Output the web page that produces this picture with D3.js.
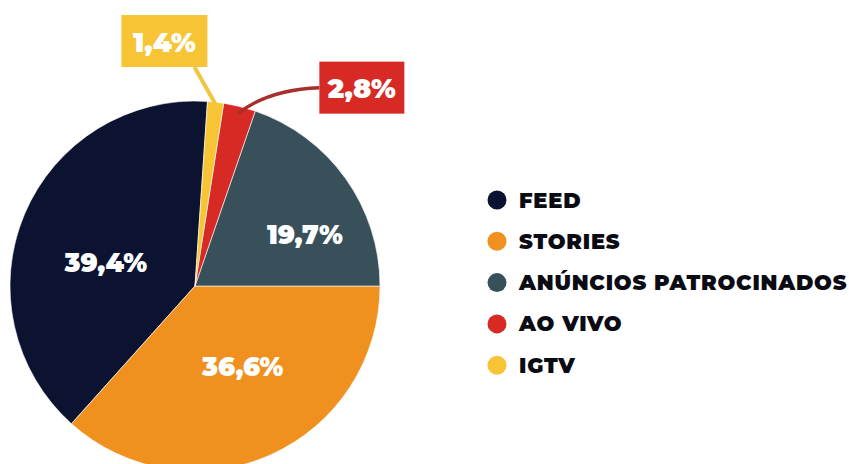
<!DOCTYPE html>
<html>
<head>
<meta charset="utf-8">
<script src="https://cdn.jsdelivr.net/npm/d3@7/dist/d3.min.js"></script>
<style>
  html, body { margin: 0; padding: 0; background: #ffffff; }
  svg { display: block; }
  text { font-family: "Montserrat", "Inter", "Lato", sans-serif; font-weight: 900; }
</style>
</head>
<body>
<svg id="chart" width="849" height="464"></svg>
<script>
// Where Instagram content is consumed (share of usage)
const categories = ["FEED", "STORIES", "ANÚNCIOS PATROCINADOS", "AO VIVO", "IGTV"];
const values = [39.4, 36.6, 19.7, 2.8, 1.4];
const valueLabels = ["39,4%", "36,6%", "19,7%", "2,8%", "1,4%"];
const colors = ["#0b1330", "#f0901f", "#37505a", "#d82a24", "#f6c435"];

const cx = 195, cy = 286, R = 185;

const svg = d3.select("#chart");
const g = svg.append("g").attr("transform", `translate(${cx},${cy})`);

const data = categories.map((c, i) => ({ name: c, value: values[i], label: valueLabels[i], color: colors[i], i }));

// Slices run counter-clockwise in legend order so that the boundary
// between STORIES and ANÚNCIOS sits exactly at 3 o'clock.
const total = d3.sum(values);
const afterStories = (values[0] + values[1]) / total * 2 * Math.PI;
const start = Math.PI / 2 + afterStories;
const pie = d3.pie().sort(null).value(d => d.value)
  .startAngle(start).endAngle(start - 2 * Math.PI);
const arcs = pie(data);

const arc = d3.arc().innerRadius(0).outerRadius(R);

g.selectAll("path.slice")
  .data(arcs)
  .join("path")
  .attr("class", "slice")
  .attr("d", arc)
  .attr("fill", d => d.data.color)
  .attr("stroke", "#ffffff")
  .attr("stroke-width", 0.6);

// Inside labels for the three large slices
const insideLayout = {
  "FEED": { k: 0.5, dx: -4, dy: 13 },
  "STORIES": { k: 0.5, dx: 10, dy: -3 },
  "ANÚNCIOS PATROCINADOS": { k: 0.65, dx: 12, dy: 19 }
};
g.selectAll("text.inside")
  .data(arcs.filter(d => insideLayout[d.data.name]))
  .join("text")
  .attr("class", "inside")
  .attr("transform", d => {
    const L = insideLayout[d.data.name];
    const c = d3.arc().innerRadius(R * L.k).outerRadius(R * L.k).centroid(d);
    return `translate(${c[0] + L.dx},${c[1] + L.dy})`;
  })
  .attr("text-anchor", "middle")
  .attr("dominant-baseline", "central")
  .attr("fill", "#ffffff")
  .attr("font-size", 26)
  .text(d => d.data.label);

// Callouts for the two thin slices
const calloutLayout = {
  "IGTV": { anchorK: 0.99, box: [-51, -63], w: 86, h: 52, curve: false, line: "#f0c540" },
  "AO VIVO": { anchorK: 0.96, box: [124, -26], w: 85, h: 52, curve: true, line: "#a8302c" }
};
arcs.filter(d => calloutLayout[d.data.name]).forEach(d => {
  const L = calloutLayout[d.data.name];
  const a = (d.startAngle + d.endAngle) / 2;
  const p = [Math.sin(a) * R * L.anchorK, -Math.cos(a) * R * L.anchorK];
  const bx = p[0] + L.box[0], by = p[1] + L.box[1]; // box centre
  const cg = g.append("g");
  if (L.curve) {
    const end = [bx - L.w / 2, by];
    const ctrl = [p[0] + 30, end[1] + 2];
    cg.append("path")
      .attr("d", `M${p[0]},${p[1]} Q${ctrl[0]},${ctrl[1]} ${end[0]},${end[1]}`)
      .attr("fill", "none").attr("stroke", L.line).attr("stroke-width", 3.5);
  } else {
    const end = [bx + 30, by + L.h / 2];
    cg.append("line")
      .attr("x1", p[0]).attr("y1", p[1]).attr("x2", end[0]).attr("y2", end[1])
      .attr("stroke", L.line).attr("stroke-width", 4);
  }
  cg.append("rect")
    .attr("x", bx - L.w / 2).attr("y", by - L.h / 2)
    .attr("width", L.w).attr("height", L.h)
    .attr("fill", d.data.color);
  cg.append("text")
    .attr("x", bx).attr("y", by + 1)
    .attr("text-anchor", "middle")
    .attr("dominant-baseline", "central")
    .attr("fill", "#ffffff")
    .attr("font-size", 27)
    .text(d.data.label);
});

// Legend
const legend = svg.append("g").attr("transform", "translate(497,200)");
const rowStep = 41.3;
const rows = legend.selectAll("g.row")
  .data(data)
  .join("g")
  .attr("class", "row")
  .attr("transform", (d, i) => `translate(0,${i * rowStep})`);
rows.append("circle").attr("r", 9.5).attr("fill", d => d.color);
rows.append("text")
  .attr("x", 22)
  .attr("dominant-baseline", "central")
  .attr("fill", "#0b0b14")
  .attr("font-size", 21)
  .attr("letter-spacing", 0.8)
  .text(d => d.name);
</script>
</body>
</html>
